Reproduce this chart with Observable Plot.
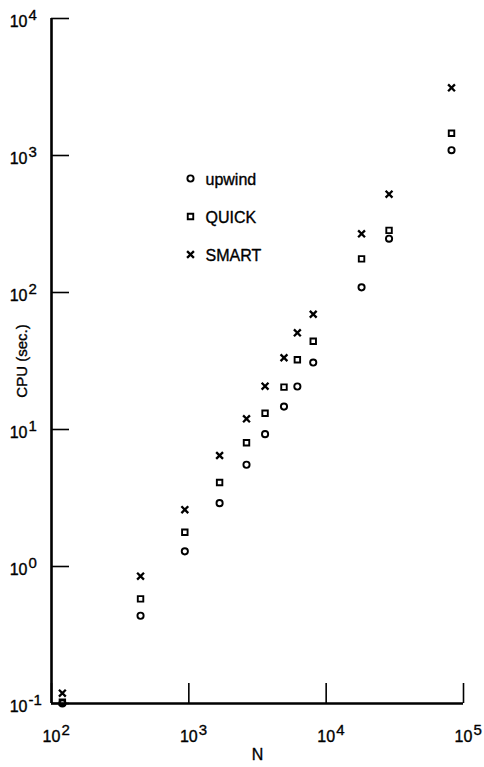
<!DOCTYPE html>
<html>
<head>
<meta charset="utf-8">
<script src="https://cdn.jsdelivr.net/npm/d3@7"></script>
<script src="https://cdn.jsdelivr.net/npm/@observablehq/plot@0.6"></script>
<style>
  html, body { margin: 0; padding: 0; background: #fff; }
  svg { display: block; }
</style>
</head>
<body>
<div id="chart"></div>
<script>
// ---- data ----
const N = [120, 445, 935, 1675, 2630, 3590, 4930, 6170, 8050, 18100, 28700, 81800];
const upwind = [0.1, 0.437, 1.29, 2.90, 5.53, 9.25, 14.7, 20.6, 30.8, 109, 247, 1093];
const quick  = [0.102, 0.58, 1.78, 4.10, 8.0, 13.15, 20.4, 32.3, 44.1, 176, 284, 1455];
const smart  = [0.119, 0.85, 2.6, 6.46, 11.97, 20.7, 33.4, 50.8, 69.4, 268, 522, 3120];
const seriesNames = ["upwind", "QUICK", "SMART"];
const seriesSymbols = ["circle", "square", "times"];
const xTickExp = [2, 3, 4, 5];
const yTickExp = [-1, 0, 1, 2, 3, 4];
const xLabel = "N";
const yLabel = "CPU (sec.)";

// ---- layout ----
const W = 484, H = 767;
const mL = 51, mR = 21, mT = 18, mB = 64;
const plotW = W - mL - mR, plotH = H - mT - mB;
const font = "Liberation Sans, Arial, sans-serif";

const seriesValues = [upwind, quick, smart];
const rows = seriesNames.map((s, i) => N.map((n, j) => ({N: n, v: seriesValues[i][j], s})));

const xTicks = xTickExp.map(e => 10 ** e);
const yTicks = yTickExp.map(e => 10 ** e);
const expText = d => String(Math.round(Math.log10(d)));

const txt = {fontFamily: font, fill: "black", stroke: "black", strokeWidth: 0.35, lineAnchor: "middle"};
const dotStyle = i => ({symbol: seriesSymbols[i], r: i === 2 ? 3.2 : 3.1, stroke: "black", strokeWidth: i === 2 ? 2.3 : 1.9, fill: "none"});
const marks = [];
// axis lines
marks.push(Plot.ruleX([xTicks[0]], {stroke: "black", strokeWidth: 2.6}));
marks.push(Plot.ruleY([yTicks[0]], {stroke: "black", strokeWidth: 2.6}));
// inward ticks
marks.push(Plot.tickY(yTicks, {y: d => d, insetRight: plotW - 18, stroke: "black", strokeWidth: 1.6}));
marks.push(Plot.tickX(xTicks, {x: d => d, insetTop: plotH - 20, stroke: "black", strokeWidth: 1.6}));
// y tick labels
marks.push(Plot.text(yTicks, {...txt, y: d => d, frameAnchor: "left", dx: -24, dy: 3, text: () => "10", textAnchor: "end", fontSize: 16}));
marks.push(Plot.text(yTicks, {...txt, y: d => d, frameAnchor: "left", dx: -23, dy: -3, text: expText, textAnchor: "start", fontSize: 15}));
// x tick labels
marks.push(Plot.text(xTicks, {...txt, x: d => d, frameAnchor: "bottom", dx: 0, dy: 33, text: () => "10", textAnchor: "middle", fontSize: 16}));
marks.push(Plot.text(xTicks, {...txt, x: d => d, frameAnchor: "bottom", dx: 10, dy: 27, text: expText, textAnchor: "start", fontSize: 15}));
// axis titles
marks.push(Plot.text([xLabel], {...txt, frameAnchor: "bottom", dy: 51, text: d => d, textAnchor: "middle", fontSize: 16}));
marks.push(Plot.text([yLabel], {...txt, frameAnchor: "left", dx: -29, rotate: -90, text: d => d, textAnchor: "middle", fontSize: 15}));
// data points
seriesNames.forEach((s, i) => {
  marks.push(Plot.dot(rows[i], {x: "N", y: "v", ...dotStyle(i)}));
});
// legend
seriesNames.forEach((s, i) => {
  const dy = 160 + i * 38;
  marks.push(Plot.dot([s], {frameAnchor: "top-left", dx: 139, dy, ...dotStyle(i)}));
  marks.push(Plot.text([s], {...txt, frameAnchor: "top-left", dx: 154, dy: dy + 1, text: d => d, textAnchor: "start", fontSize: 16}));
});

const chart = Plot.plot({
  width: W,
  height: H,
  marginLeft: mL,
  marginRight: mR,
  marginTop: mT,
  marginBottom: mB,
  x: {type: "log", domain: [xTicks[0], xTicks[xTicks.length - 1]], axis: null},
  y: {type: "log", domain: [yTicks[0], yTicks[yTicks.length - 1]], axis: null},
  style: {background: "white", color: "black", fontFamily: font},
  marks
});
document.getElementById("chart").appendChild(chart);
</script>
</body>
</html>
